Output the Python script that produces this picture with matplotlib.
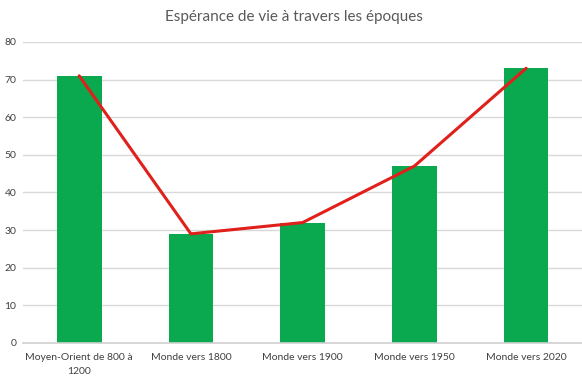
import matplotlib.pyplot as plt
import numpy as np

plt.rcParams['font.family'] = ['Lato', 'DejaVu Sans']

categories = ['Moyen-Orient de 800 à\n1200', 'Monde vers 1800', 'Monde vers 1900',
              'Monde vers 1950', 'Monde vers 2020']
esperance = [71, 29, 32, 47, 73]
yticks = [0, 10, 20, 30, 40, 50, 60, 70, 80]

fig = plt.figure(figsize=(5.82, 3.88), dpi=100)
ax = fig.add_axes([0.04, 0.116, 0.96, 0.776])

x = np.arange(len(categories))
ax.bar(x, esperance, width=0.4, color='#0aa84f', zorder=2)
ax.plot(x, esperance, color='#e0201b', linewidth=2.2, zorder=3,
        solid_capstyle='round')

ax.set_xlim(-0.5, len(categories) - 0.5)
ax.set_ylim(0, 80)
ax.set_yticks(yticks)
ax.set_xticks(x)
ax.set_xticklabels(categories, fontsize=7.5, color='#404040', linespacing=1.8)
ax.tick_params(axis='y', labelsize=7.5, labelcolor='#404040', length=0, pad=5)
ax.tick_params(axis='x', length=0, pad=7)
ax.grid(axis='y', color='#d9d9d9', linewidth=1, zorder=0)
for s in ['top', 'right', 'left']:
  ax.spines[s].set_visible(False)
ax.spines['bottom'].set_color('#d0d0d0')
ax.spines['bottom'].set_linewidth(1.2)

fig.text(0.505, 0.955, 'Espérance de vie à travers les époques', ha='center',
         va='center', fontsize=11, color='#595959')

fig.savefig('out.png', dpi=100)
